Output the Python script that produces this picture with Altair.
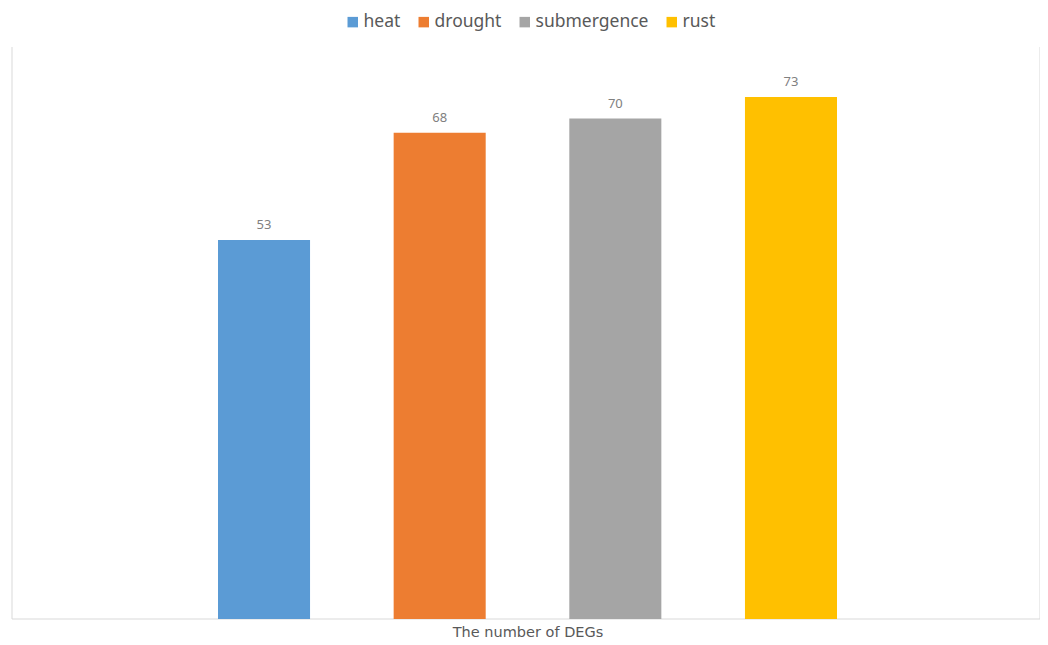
import altair as alt
import pandas as pd

series = ["heat", "drought", "submergence", "rust"]
values = [53, 68, 70, 73]
colors = ["#5B9BD5", "#ED7D31", "#A5A5A5", "#FFC000"]
category = "The number of DEGs"

df = pd.DataFrame({"series": series, "value": values})

W, H = 1028, 572
FONT = "Noto Sans"

x = alt.X(
    "series:N",
    sort=series,
    scale=alt.Scale(range=[206, 825], paddingInner=0.476, paddingOuter=0),
    axis=alt.Axis(labels=False, ticks=False, domain=False, title=category,
                  titlePadding=6, titleFont="DejaVu Sans", titleFontSize=14.5,
                  titleColor="#595959", titleFontWeight="normal"),
)
y = alt.Y("value:Q", scale=alt.Scale(domain=[0, 80], nice=False), axis=None)
color = alt.Color(
    "series:N",
    sort=series,
    scale=alt.Scale(domain=series, range=colors),
    legend=alt.Legend(title=None, orient="none", direction="horizontal",
                      legendX=332, legendY=-34, symbolType="square",
                      symbolSize=110, symbolStrokeWidth=0, labelFont=FONT,
                      labelFontSize=17.5, labelColor="#595959",
                      columnPadding=14, labelOffset=2),
)

base = alt.Chart(df)
bars = base.mark_bar().encode(x=x, y=y, color=color)
labels = base.mark_text(baseline="bottom", dy=-8, fontSize=13, font=FONT,
                        color="#808080").encode(
    x=alt.X("series:N", sort=series), y="value:Q", text="value:Q")

border_df = pd.DataFrame({"k": [0]})
bb = alt.Chart(border_df)
left = bb.mark_rule(color="#D9D9D9", strokeWidth=1).encode(
    x=alt.value(0), y=alt.value(0), y2=alt.value(H))
right = bb.mark_rule(color="#D9D9D9", strokeWidth=1).encode(
    x=alt.value(W), y=alt.value(0), y2=alt.value(H))
bottom = bb.mark_rule(color="#D9D9D9", strokeWidth=1).encode(
    x=alt.value(0), x2=alt.value(W), y=alt.value(H))

chart = alt.layer(left, right, bottom, bars, labels).properties(
    width=W, height=H,
    autosize=alt.AutoSizeParams(type="none"),
    padding={"left": 4, "top": 39, "right": 0, "bottom": 24},
).configure_view(stroke=None)

chart.save("out.html", embed_options={"renderer": "svg", "actions": False})
